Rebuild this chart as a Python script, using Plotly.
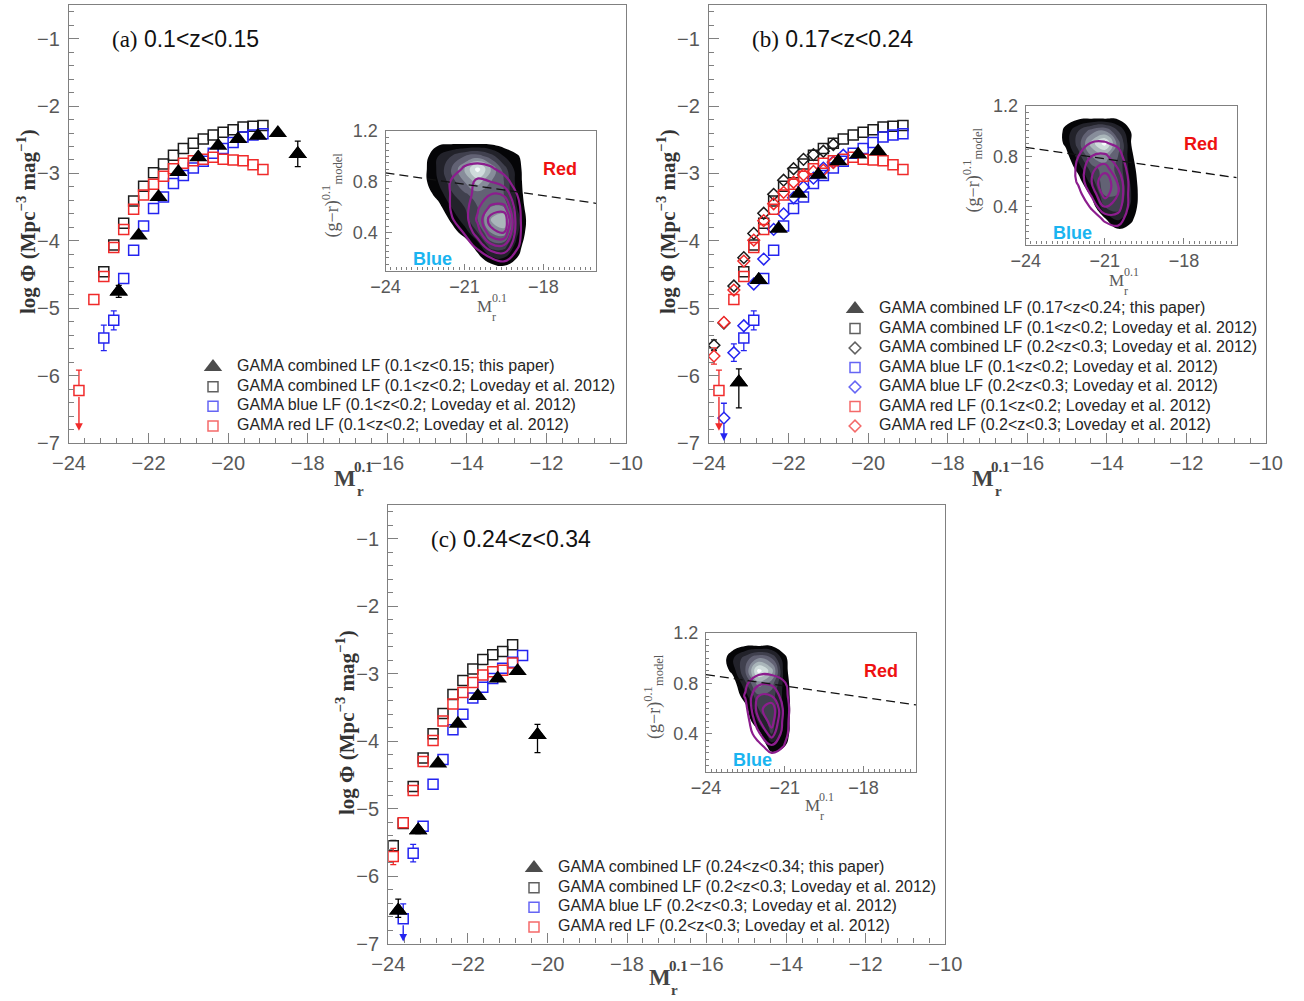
import plotly.graph_objects as go

W, H = 1304, 1001
SANS = "Liberation Sans"
SERIF = "Liberation Serif"

BLACK = "#1c1c1c"
BLUE = "#2424f0"
RED = "#f02a2a"
PURPLE = "#8c1d8e"
AXIS_GREY = "#808080"
TICK_TEXT = "#585858"
TEXT_DARK = "#262626"

# ---------------- luminosity functions: log Phi [Mpc^-3 mag^-1] vs M_r^0.1 ----------------
# GAMA combined LF (this paper), one set per redshift slice
TRI_A_M = [-22.75, -22.25, -21.75, -21.25, -20.75, -20.25, -19.75, -19.25, -18.75, -18.25]
TRI_A_PHI = [-4.75, -3.92, -3.35, -2.98, -2.76, -2.59, -2.49, -2.44, -2.40, -2.71]
TRI_A_EUP = [0.09, 0, 0, 0, 0, 0, 0, 0, 0, 0.19]
TRI_A_EDN = [0.09, 0, 0, 0, 0, 0, 0, 0, 0, 0.19]

TRI_B_M = [-23.25, -22.75, -22.25, -21.75, -21.25, -20.75, -20.25, -19.75]
TRI_B_PHI = [-6.10, -4.58, -3.82, -3.30, -3.02, -2.82, -2.72, -2.67]
TRI_B_EUP = [0.20, 0.05, 0, 0, 0, 0, 0, 0]
TRI_B_EDN = [0.38, 0.05, 0, 0, 0, 0, 0, 0]

TRI_C_M = [-23.75, -23.25, -22.75, -22.25, -21.75, -21.25, -20.75, -20.25]
TRI_C_PHI = [-6.51, -5.32, -4.33, -3.74, -3.33, -3.07, -2.96, -3.91]
TRI_C_EUP = [0.17, 0.05, 0, 0, 0, 0, 0, 0.16]
TRI_C_EDN = [0.10, 0.05, 0, 0, 0, 0, 0, 0.26]

# Loveday et al. 2012, 0.1<z<0.2
M_LO = [-23.125, -22.875, -22.625, -22.375, -22.125, -21.875, -21.625, -21.375, -21.125,
        -20.875, -20.625, -20.375, -20.125, -19.875, -19.625, -19.375, -19.125]
ALL_LO_PHI = [-4.46, -4.06, -3.74, -3.41, -3.19, -2.99, -2.86, -2.73, -2.63,
              -2.55, -2.49, -2.43, -2.39, -2.35, -2.31, -2.30, -2.29]
ALL_LO_ERR = [0.05, 0, 0, 0, 0, 0, 0, 0, 0, 0, 0, 0, 0, 0, 0, 0, 0]
BLUE_LO_PHI = [-5.44, -5.18, -4.56, -4.14, -3.78, -3.52, -3.35, -3.15, -3.03,
               -2.92, -2.82, -2.70, -2.63, -2.54, -2.46, -2.43, -2.41]
BLUE_LO_ERR = [0.19, 0.14, 0, 0, 0, 0, 0, 0, 0, 0, 0, 0, 0, 0, 0, 0, 0]
RED_LO_M = [-23.75, -23.375, -23.125, -22.875, -22.625, -22.375, -22.125, -21.875, -21.625,
            -21.375, -21.125, -20.875, -20.625, -20.375, -20.125, -19.875, -19.625, -19.375, -19.125]
RED_LO_PHI = [-6.22, -4.87, -4.53, -4.10, -3.83, -3.53, -3.32, -3.16, -3.04,
              -2.93, -2.85, -2.81, -2.79, -2.76, -2.79, -2.80, -2.81, -2.87, -2.94]
RED_LO_EUP = [0.30, 0.07, 0, 0, 0, 0, 0, 0, 0, 0, 0, 0, 0, 0, 0, 0, 0, 0, 0]
RED_LO_EDN = [0, 0.07, 0, 0, 0, 0, 0, 0, 0, 0, 0, 0, 0, 0, 0, 0, 0, 0, 0]
RED_LO_LIMIT = (0, -6.82)   # (index of upper limit, arrow tip)

# Loveday et al. 2012, 0.2<z<0.3
M_HI = [-23.875, -23.625, -23.375, -23.125, -22.875, -22.625, -22.375, -22.125, -21.875,
        -21.625, -21.375, -21.125, -20.875]
ALL_HI_PHI = [-5.55, -5.22, -4.67, -4.25, -3.89, -3.59, -3.31, -3.10, -2.93,
              -2.79, -2.72, -2.67, -2.57]
ALL_HI_ERR = [0.08, 0, 0, 0, 0, 0, 0, 0, 0, 0, 0, 0, 0]
RED_HI_PHI = [-5.71, -5.21, -4.73, -4.30, -3.99, -3.70, -3.45, -3.28, -3.13,
              -3.02, -2.97, -2.95, -2.84]
RED_HI_ERR = [0.12, 0.05, 0, 0, 0, 0, 0, 0, 0, 0, 0, 0, 0]
BLUE_HI_M = [-23.625, -23.375, -23.125, -22.875, -22.625, -22.375, -22.125, -21.875, -21.625,
             -21.375, -21.125, -20.875, -20.625]
BLUE_HI_PHI = [-6.63, -5.66, -5.26, -4.64, -4.27, -3.83, -3.60, -3.36, -3.20,
               -3.07, -2.92, -2.83, -2.73]
BLUE_HI_EUP = [0.22, 0.13, 0.04, 0, 0, 0, 0, 0, 0, 0, 0, 0, 0]
BLUE_HI_EDN = [0, 0.13, 0.04, 0, 0, 0, 0, 0, 0, 0, 0, 0, 0]
BLUE_HI_LIMIT = (0, -6.97)

# ---------------- legends ----------------
LEG_A = ["GAMA combined LF (0.1&lt;z&lt;0.15; this paper)",
         "GAMA combined LF (0.1&lt;z&lt;0.2; Loveday et al. 2012)",
         "GAMA blue LF (0.1&lt;z&lt;0.2; Loveday et al. 2012)",
         "GAMA red LF (0.1&lt;z&lt;0.2; Loveday et al. 2012)"]
LEG_B = ["GAMA combined LF (0.17&lt;z&lt;0.24; this paper)",
         "GAMA combined LF (0.1&lt;z&lt;0.2; Loveday et al. 2012)",
         "GAMA combined LF (0.2&lt;z&lt;0.3; Loveday et al. 2012)",
         "GAMA blue LF (0.1&lt;z&lt;0.2; Loveday et al. 2012)",
         "GAMA blue LF (0.2&lt;z&lt;0.3; Loveday et al. 2012)",
         "GAMA red LF (0.1&lt;z&lt;0.2; Loveday et al. 2012)",
         "GAMA red LF (0.2&lt;z&lt;0.3; Loveday et al. 2012)"]
LEG_C = ["GAMA combined LF (0.24&lt;z&lt;0.34; this paper)",
         "GAMA combined LF (0.2&lt;z&lt;0.3; Loveday et al. 2012)",
         "GAMA blue LF (0.2&lt;z&lt;0.3; Loveday et al. 2012)",
         "GAMA red LF (0.2&lt;z&lt;0.3; Loveday et al. 2012)"]

PANEL_TAGS = ["(a)", "(b)", "(c)"]
PANEL_Z = ["0.1&lt;z&lt;0.15", "0.17&lt;z&lt;0.24", "0.24&lt;z&lt;0.34"]

# ---------------- colour-magnitude insets ----------------
# red/blue dividing line (g-r) vs M
DIVIDER_M = [-24, -16]
DIVIDER_GR = [0.87, 0.63]

GR_ROWS = [1.2, 1.1, 1.0, 0.9, 0.8, 0.7, 0.6, 0.5, 0.4, 0.3, 0.2, 0.1]   # top to bottom
DENS_M_AB = [-23, -22.5, -22, -21.5, -21, -20.5, -20, -19.5, -19, -18.5, -18]
DENS_M_C = [-23.5, -23, -22.5, -22, -21.5, -21, -20.5, -20]

# all-galaxy density (grey shading), relative level units
GREY_A = [
    [0, 0, 0, 0, 0, 0, 0, 0, 0, 0, 0],
    [0, 0, 0.8, 0.9, 0.9, 0.9, 0.8, 0.5, 0, 0, 0],
    [0, 0.6, 2, 3, 4, 4.5, 3.5, 2, 1.2, 0, 0],
    [0, 0.8, 2.2, 4, 6, 8.5, 6, 3.5, 1.5, 0, 0],
    [0, 0.8, 2, 3.5, 5, 6.5, 5, 4, 1.6, 0, 0],
    [0, 0.4, 1.4, 2.8, 3.8, 4.5, 4.5, 4, 1.8, 0, 0],
    [0, 0, 0.6, 2, 3, 4, 5, 5, 2, 0.2, 0],
    [0, 0, 0, 1.2, 2.5, 4, 6, 7, 2.5, 0.3, 0],
    [0, 0, 0, 0.4, 1.5, 3, 5, 5.5, 2.2, 0.2, 0],
    [0, 0, 0, 0, 0.2, 1.6, 3.5, 3.5, 1.6, 0, 0],
    [0, 0, 0, 0, 0, 0.6, 1.8, 2, 1, 0, 0],
    [0, 0, 0, 0, 0, 0, 0, 0.4, 0.2, 0, 0],
]
GREY_B = [
    [0, 0, 0, 0, 0, 0, 0, 0, 0, 0, 0],
    [0, 0.6, 0.8, 0.9, 0.9, 0.8, 0.3, 0, 0, 0, 0],
    [0, 1.25, 3, 4.5, 5, 3, 0.9, 0, 0, 0, 0],
    [0, 1.2, 3.5, 6.5, 8.5, 4.5, 1.0, 0, 0, 0, 0],
    [0, 0.4, 2.5, 5, 5.5, 4, 1.2, 0, 0, 0, 0],
    [0, 0, 1.4, 3.5, 4.5, 3.8, 1.5, 0, 0, 0, 0],
    [0, 0, 0.5, 2.5, 4.8, 4, 1.8, 0, 0, 0, 0],
    [0, 0, 0, 1.2, 4.2, 4, 2.0, 0, 0, 0, 0],
    [0, 0, 0, 0.2, 3, 3.5, 1.8, 0, 0, 0, 0],
    [0, 0, 0, 0, 0.8, 2.2, 1.2, 0, 0, 0, 0],
    [0, 0, 0, 0, 0, 0.6, 0.5, 0, 0, 0, 0],
    [0, 0, 0, 0, 0, 0, 0, 0, 0, 0, 0],
]
GREY_C = [
    [0, 0, 0, 0, 0, 0, 0, 0],
    [0, 0.4, 0.9, 0.9, 0.9, 0.5, 0, 0],
    [0, 1.8, 3.5, 5, 4, 1.2, 0, 0],
    [0, 1.3, 4, 8.5, 6.5, 1.3, 0, 0],
    [0, 0.2, 2.8, 5.5, 4.5, 1.5, 0, 0],
    [0, 0, 1.6, 3.8, 3.5, 1.6, 0, 0],
    [0, 0, 0.6, 3.0, 3.8, 1.7, 0, 0],
    [0, 0, 0, 2.2, 3.5, 1.6, 0, 0],
    [0, 0, 0, 0.5, 3.0, 1.5, 0, 0],
    [0, 0, 0, 0, 1.5, 1.0, 0, 0],
    [0, 0, 0, 0, 0.3, 0.2, 0, 0],
    [0, 0, 0, 0, 0, 0, 0, 0],
]
# blue-selected density (purple contour lines)
PURPLE_A = [
    [0, 0, 0, 0, 0, 0, 0, 0, 0, 0, 0],
    [0, 0, 0, 0, 0, 0, 0, 0, 0, 0, 0],
    [0, 0, 0, 0, 0.3, 0.5, 0.3, 0, 0, 0, 0],
    [0, 0, 0, 0.3, 1.2, 1.4, 1.2, 0.6, 0, 0, 0],
    [0, 0, 0.2, 1.1, 1.5, 2.2, 2.0, 1.5, 0.4, 0, 0],
    [0, 0, 0, 1.1, 1.5, 2.4, 3.0, 2.8, 1.0, 0, 0],
    [0, 0, 0, 1.1, 1.6, 2.8, 4.2, 4.3, 1.3, 0, 0],
    [0, 0, 0, 0.9, 1.5, 3.2, 5.5, 6.0, 1.4, 0, 0],
    [0, 0, 0, 0.2, 1.1, 2.5, 4.6, 5.0, 1.4, 0, 0],
    [0, 0, 0, 0, 0.3, 1.4, 2.8, 3.0, 1.2, 0, 0],
    [0, 0, 0, 0, 0, 0.2, 1.0, 1.4, 0.6, 0, 0],
    [0, 0, 0, 0, 0, 0, 0, 0, 0, 0, 0],
]
PURPLE_B = [
    [0, 0, 0, 0, 0, 0, 0, 0, 0, 0, 0],
    [0, 0, 0, 0, 0, 0, 0, 0, 0, 0, 0],
    [0, 0, 0, 0.3, 0.4, 0.2, 0, 0, 0, 0, 0],
    [0, 0, 0.3, 1.1, 1.1, 0.8, 0, 0, 0, 0, 0],
    [0, 0, 1.0, 2.0, 2.2, 1.4, 0.2, 0, 0, 0, 0],
    [0, 0, 1.3, 2.8, 3.5, 2.0, 0.4, 0, 0, 0, 0],
    [0, 0, 1.2, 3.0, 5.0, 2.8, 0.5, 0, 0, 0, 0],
    [0, 0, 0.6, 2.2, 4.5, 3.0, 0.4, 0, 0, 0, 0],
    [0, 0, 0, 1.2, 3.0, 2.5, 0.5, 0, 0, 0, 0],
    [0, 0, 0, 0.2, 1.2, 1.5, 0.3, 0, 0, 0, 0],
    [0, 0, 0, 0, 0.2, 0.5, 0, 0, 0, 0, 0],
    [0, 0, 0, 0, 0, 0, 0, 0, 0, 0, 0],
]
PURPLE_C = [
    [0, 0, 0, 0, 0, 0, 0, 0],
    [0, 0, 0, 0, 0, 0, 0, 0],
    [0, 0, 0, 0, 0, 0, 0, 0],
    [0, 0, 0.3, 0.6, 0.6, 0.3, 0, 0],
    [0, 0, 0.8, 1.8, 1.8, 1.1, 0, 0],
    [0, 0, 1.1, 3.0, 3.0, 1.3, 0, 0],
    [0, 0, 0.6, 3.6, 4.8, 1.5, 0, 0],
    [0, 0, 0.2, 2.8, 4.5, 1.4, 0, 0],
    [0, 0, 0, 1.8, 3.5, 1.3, 0, 0],
    [0, 0, 0, 0.5, 1.8, 0.9, 0, 0],
    [0, 0, 0, 0, 0.2, 0.1, 0, 0],
    [0, 0, 0, 0, 0, 0, 0, 0],
]

GREY_BANDS = ["#ffffff", "#050507", "#22222a", "#40404e", "#626274",
              "#878d9a", "#aab6ba", "#d0dcdc", "#f6fbfb"]


def px_x(x):
    return x / W


def px_y(y):
    return 1 - y / H


def dom_x(a, b):
    return [a / W, min(1.0, b / W)]


def dom_y(top, bottom):
    return [1 - bottom / H, 1 - top / H]


def step_scale(colors):
    n = len(colors) - 1
    scale = []
    for k, c in enumerate(colors):
        scale.append([max(0.0, (k - 0.5) / n), c])
        scale.append([min(1.0, (k + 0.5) / n), c])
    return scale


fig = go.Figure()


def add_series(ax, m, phi, eup, edn, symbol, color, size, filled=False, lw=1.5):
    xa, ya = ax
    idx = [i for i in range(len(m)) if eup[i] > 0 or edn[i] > 0]
    base = symbol.replace("-open", "")
    if idx:
        fig.add_trace(go.Scatter(
            x=[m[i] for i in idx], y=[phi[i] for i in idx], mode="markers",
            marker=dict(symbol=base, size=size, color=color if filled else "white", line=dict(width=0)),
            error_y=dict(type="data", symmetric=False, array=[eup[i] for i in idx],
                         arrayminus=[edn[i] for i in idx], color=color, thickness=1.3, width=3),
            xaxis=xa, yaxis=ya, hoverinfo="skip", showlegend=False))
    fig.add_trace(go.Scatter(
        x=m, y=phi, mode="markers",
        marker=dict(symbol=symbol, size=size, color=color, line=dict(width=0 if filled else lw, color=color)),
        xaxis=xa, yaxis=ya, hoverinfo="skip", showlegend=False))


def add_limit(ax, m, phi, limit, color):
    i, tip = limit
    fig.add_annotation(x=m[i], y=tip, ax=m[i], ay=phi[i], xref=ax[0], yref=ax[1],
                       axref=ax[0], ayref=ax[1], text="", showarrow=True, arrowhead=2,
                       arrowsize=1.1, arrowwidth=1.4, arrowcolor=color, startstandoff=5)


SQ, DI, TRI = 10, 9, 16

# panel (a)
AX_A = ("x", "y")
add_series(AX_A, M_LO, ALL_LO_PHI, ALL_LO_ERR, ALL_LO_ERR, "square-open", BLACK, SQ)
add_series(AX_A, M_LO, BLUE_LO_PHI, BLUE_LO_ERR, BLUE_LO_ERR, "square-open", BLUE, SQ)
add_series(AX_A, RED_LO_M, RED_LO_PHI, RED_LO_EUP, RED_LO_EDN, "square-open", RED, SQ)
add_limit(AX_A, RED_LO_M, RED_LO_PHI, RED_LO_LIMIT, RED)
add_series(AX_A, TRI_A_M, TRI_A_PHI, TRI_A_EUP, TRI_A_EDN, "triangle-up", "#000000", TRI, filled=True)

# panel (b)
AX_B = ("x2", "y2")
add_series(AX_B, M_LO, ALL_LO_PHI, ALL_LO_ERR, ALL_LO_ERR, "square-open", BLACK, SQ)
add_series(AX_B, M_HI, ALL_HI_PHI, ALL_HI_ERR, ALL_HI_ERR, "diamond-open", BLACK, DI)
add_series(AX_B, M_LO, BLUE_LO_PHI, BLUE_LO_ERR, BLUE_LO_ERR, "square-open", BLUE, SQ)
add_series(AX_B, BLUE_HI_M, BLUE_HI_PHI, BLUE_HI_EUP, BLUE_HI_EDN, "diamond-open", BLUE, DI)
add_limit(AX_B, BLUE_HI_M, BLUE_HI_PHI, BLUE_HI_LIMIT, BLUE)
add_series(AX_B, RED_LO_M, RED_LO_PHI, RED_LO_EUP, RED_LO_EDN, "square-open", RED, SQ)
add_limit(AX_B, RED_LO_M, RED_LO_PHI, RED_LO_LIMIT, RED)
add_series(AX_B, M_HI, RED_HI_PHI, RED_HI_ERR, RED_HI_ERR, "diamond-open", RED, DI)
add_series(AX_B, TRI_B_M, TRI_B_PHI, TRI_B_EUP, TRI_B_EDN, "triangle-up", "#000000", TRI, filled=True)

# panel (c)
AX_C = ("x3", "y3")
add_series(AX_C, M_HI, ALL_HI_PHI, ALL_HI_ERR, ALL_HI_ERR, "square-open", BLACK, SQ)
add_series(AX_C, BLUE_HI_M, BLUE_HI_PHI, BLUE_HI_EUP, BLUE_HI_EDN, "square-open", BLUE, SQ)
add_limit(AX_C, BLUE_HI_M, BLUE_HI_PHI, BLUE_HI_LIMIT, BLUE)
add_series(AX_C, M_HI, RED_HI_PHI, RED_HI_ERR, RED_HI_ERR, "square-open", RED, SQ)
add_series(AX_C, TRI_C_M, TRI_C_PHI, TRI_C_EUP, TRI_C_EDN, "triangle-up", "#000000", TRI, filled=True)


# ---------------- insets ----------------
def add_inset(ax, cols, grey, purple):
    xa, ya = ax
    rows = GR_ROWS[::-1]
    fig.add_trace(go.Contour(
        x=cols, y=rows, z=grey[::-1], autocontour=False,
        contours=dict(start=1, end=8, size=1, coloring="fill", showlines=False),
        colorscale=step_scale(GREY_BANDS), showscale=False, line=dict(width=0, smoothing=1.3),
        xaxis=xa, yaxis=ya, hoverinfo="skip"))
    fig.add_trace(go.Contour(
        x=cols, y=rows, z=purple[::-1], autocontour=False,
        contours=dict(start=1, end=5, size=1, coloring="lines"),
        colorscale=[[0, PURPLE], [1, PURPLE]], showscale=False,
        line=dict(width=2.2, smoothing=1.3), xaxis=xa, yaxis=ya, hoverinfo="skip"))
    fig.add_trace(go.Scatter(
        x=DIVIDER_M, y=DIVIDER_GR, mode="lines",
        line=dict(color="#111111", width=1.3, dash="9px,5px"),
        xaxis=xa, yaxis=ya, hoverinfo="skip", showlegend=False))
    fig.add_annotation(x=-17.35, y=0.90, xref=xa, yref=ya, text="<b>Red</b>", showarrow=False,
                       font=dict(family=SANS, size=18, color="#ee1111"))
    fig.add_annotation(x=-22.22, y=0.19, xref=xa, yref=ya, text="<b>Blue</b>", showarrow=False,
                       font=dict(family=SANS, size=18, color="#1ab4f0"))


add_inset(("x4", "y4"), DENS_M_AB, GREY_A, PURPLE_A)
add_inset(("x5", "y5"), DENS_M_AB, GREY_B, PURPLE_B)
add_inset(("x6", "y6"), DENS_M_C, GREY_C, PURPLE_C)


# ---------------- legends (drawn on hidden helper axes) ----------------
def add_legend(ax, labels, symbols, colors):
    xa, ya = ax
    n = len(labels)
    rows = list(range(n))
    fig.add_trace(go.Scatter(
        x=[0] * n, y=rows, mode="markers",
        marker=dict(symbol=symbols, color=colors,
                    size=[TRI if s == "triangle-up" else (SQ if s == "square-open" else DI) for s in symbols],
                    line=dict(width=[0 if s == "triangle-up" else 1.5 for s in symbols], color=colors)),
        xaxis=xa, yaxis=ya, hoverinfo="skip", showlegend=False, cliponaxis=False))
    fig.add_trace(go.Scatter(
        x=[24] * n, y=rows, mode="text", text=labels, textposition="middle right",
        textfont=dict(family=SANS, size=16, color=TEXT_DARK),
        xaxis=xa, yaxis=ya, hoverinfo="skip", showlegend=False, cliponaxis=False))


add_legend(("x7", "y7"), LEG_A, ["triangle-up", "square-open", "square-open", "square-open"],
           ["#000000", BLACK, BLUE, RED])
add_legend(("x8", "y8"), LEG_B, ["triangle-up", "square-open", "diamond-open", "square-open",
                                 "diamond-open", "square-open", "diamond-open"],
           ["#000000", BLACK, BLACK, BLUE, BLUE, RED, RED])
add_legend(("x9", "y9"), LEG_C, ["triangle-up", "square-open", "square-open", "square-open"],
           ["#000000", BLACK, BLUE, RED])

# ---------------- axes ----------------
tick_font = dict(family=SANS, size=20, color=TICK_TEXT)
inset_font = dict(family=SANS, size=18, color=TICK_TEXT)


def frame(**kw):
    base = dict(showline=True, mirror=True, linecolor=AXIS_GREY, linewidth=1.3,
                showgrid=False, zeroline=False, automargin=False, fixedrange=True)
    base.update(kw)
    return base


def main_x(dom, anchor):
    return frame(domain=dom, anchor=anchor, range=[-24, -10], tick0=-24, dtick=2,
                 ticks="inside", ticklen=10, tickwidth=1.2, tickcolor=AXIS_GREY,
                 minor=dict(ticks="inside", ticklen=5, tickwidth=1, tickcolor=AXIS_GREY, tick0=-24, dtick=0.4),
                 tickfont=tick_font, ticklabelstandoff=2)


def main_y(dom, anchor):
    return frame(domain=dom, anchor=anchor, range=[-7, -0.5], tick0=-7, dtick=1,
                 ticks="inside", ticklen=10, tickwidth=1.2, tickcolor=AXIS_GREY,
                 minor=dict(ticks="inside", ticklen=5, tickwidth=1, tickcolor=AXIS_GREY, tick0=-7, dtick=0.2),
                 tickfont=tick_font, ticklabelstandoff=4)


def inset_x(dom, anchor):
    return frame(domain=dom, anchor=anchor, range=[-24, -16], tick0=-24, dtick=3,
                 ticks="inside", ticklen=6, tickwidth=1, tickcolor=AXIS_GREY,
                 minor=dict(ticks="inside", ticklen=3, tickwidth=1, tickcolor=AXIS_GREY, tick0=-24, dtick=0.2),
                 tickfont=inset_font, ticklabelstandoff=0)


def inset_y(dom, anchor):
    return frame(domain=dom, anchor=anchor, range=[0.1, 1.2], tick0=0, dtick=0.4,
                 ticks="inside", ticklen=6, tickwidth=1, tickcolor=AXIS_GREY,
                 minor=dict(ticks="inside", ticklen=3, tickwidth=1, tickcolor=AXIS_GREY, tick0=0, dtick=0.05),
                 tickfont=inset_font, ticklabelstandoff=3)


def legend_axes(mx, row0, spacing, n):
    xa = dict(domain=dom_x(mx - 12, mx + 420), range=[-12, 420], visible=False,
              fixedrange=True, automargin=False)
    top = row0 - spacing / 2
    bottom = row0 + spacing * (n - 1) + spacing / 2
    ya = dict(domain=dom_y(top, bottom), range=[n - 0.5, -0.5], visible=False,
              fixedrange=True, automargin=False)
    return xa, ya


PANELS = {"a": (69, 626, 5, 443), "b": (709, 1266, 5, 443), "c": (388.3, 945.3, 505, 943.6)}
INSETS = {"a": (385.5, 596, 131, 270.5), "b": (1025.7, 1236.7, 105.7, 244.6), "c": (706, 916, 633, 771.7)}

layout = {}
for key, ax_id in [("a", ""), ("b", "2"), ("c", "3")]:
    l, r, t, b = PANELS[key]
    layout["xaxis" + ax_id] = main_x(dom_x(l, r), "y" + ax_id)
    layout["yaxis" + ax_id] = main_y(dom_y(t, b), "x" + ax_id)
for key, ax_id in [("a", "4"), ("b", "5"), ("c", "6")]:
    l, r, t, b = INSETS[key]
    layout["xaxis" + ax_id] = inset_x(dom_x(l, r), "y" + ax_id)
    layout["yaxis" + ax_id] = inset_y(dom_y(t, b), "x" + ax_id)
for ax_id, (mx, row0, sp, n) in [("7", (213, 367, 19.67, 4)), ("8", (855, 309, 19.5, 7)),
                                 ("9", (534, 868, 19.67, 4))]:
    xa, ya = legend_axes(mx, row0, sp, n)
    layout["xaxis" + ax_id] = dict(xa, anchor="y" + ax_id)
    layout["yaxis" + ax_id] = dict(ya, anchor="x" + ax_id)

fig.update_layout(**layout)


def paper_text(x, y, text, font, angle=0):
    fig.add_annotation(x=px_x(x), y=px_y(y), xref="paper", yref="paper", text=text,
                       textangle=angle, xanchor="center", yanchor="middle",
                       showarrow=False, font=font)


# ---------------- titles and axis labels ----------------
for ax_id, tag, zr in [("", PANEL_TAGS[0], PANEL_Z[0]), ("2", PANEL_TAGS[1], PANEL_Z[1]),
                       ("3", PANEL_TAGS[2], PANEL_Z[2])]:
    fig.add_annotation(x=-22.97, y=-1, xref="x" + ax_id, yref="y" + ax_id, xanchor="left", yanchor="middle",
                       text="<span style='font-family:Liberation Serif'>" + tag + "</span> " + zr,
                       showarrow=False, font=dict(family=SANS, size=23, color="#111111"))

YTITLE = "<b>log \u03a6 (Mpc<sup>\u22123</sup> mag<sup>\u22121</sup>)</b>"
for (x, y) in [(26, 222), (666, 222), (345, 723)]:
    paper_text(x, y, YTITLE, dict(family=SERIF, size=21, color="#333333"), angle=-90)

for (x, y) in [(345, 478), (983, 478), (660, 977)]:
    paper_text(x, y, "<b>M</b>", dict(family=SERIF, size=23, color="#444444"))
    paper_text(x + 18, y - 11, "<b>0.1</b>", dict(family=SERIF, size=15, color="#444444"))
    paper_text(x + 15, y + 13, "<b>r</b>", dict(family=SERIF, size=15, color="#444444"))

# inset axis labels
INSET_GREY = "#5a5a5a"
for key, (mx, my) in [("a", (484, 306)), ("b", (1116, 280)), ("c", (812, 805))]:
    paper_text(mx, my, "M", dict(family=SERIF, size=17, color=INSET_GREY))
    paper_text(mx + 15, my - 8, "0.1", dict(family=SERIF, size=12, color=INSET_GREY))
    paper_text(mx + 10, my + 11, "r", dict(family=SERIF, size=12, color=INSET_GREY))
    l, r, t, b = INSETS[key]
    paper_text(l - 53, t + 64, "(g\u2212r)<sup>0.1</sup><sub>model</sub>",
               dict(family=SERIF, size=18, color=INSET_GREY), angle=-90)

fig.update_layout(width=W, height=H, margin=dict(l=0, r=0, t=0, b=0, pad=0, autoexpand=False),
                  paper_bgcolor="white", plot_bgcolor="rgba(0,0,0,0)",
                  showlegend=False, font=dict(family=SANS))

fig.write_html("out.html")
